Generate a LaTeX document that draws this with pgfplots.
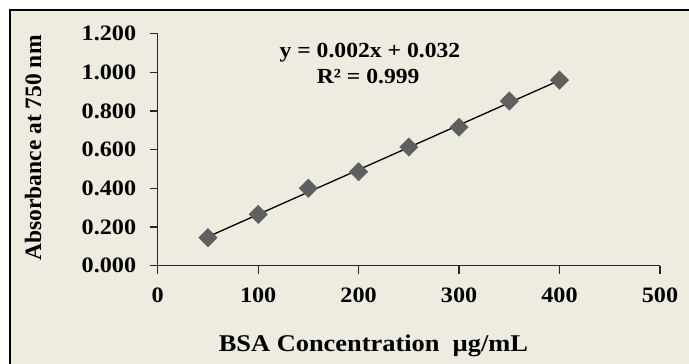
\documentclass[border=0pt]{standalone}
\usepackage{fontspec}
\setmainfont{Liberation Serif}[FakeStretch=1.1]
\newfontfamily\yfont{Liberation Serif}
\usepackage{pgfplots}
\pgfplotsset{compat=1.18}
\definecolor{bg}{RGB}{238,235,224}
\definecolor{mk}{RGB}{95,95,95}
\begin{document}
\begin{tikzpicture}
\path[use as bounding box] (0pt,0pt) rectangle (689pt,364pt);
\clip (0pt,0pt) rectangle (689pt,364pt);
\fill[white] (0pt,0pt) rectangle (689pt,364pt);
\filldraw[fill=bg, draw=black, line width=2.2pt] (10pt,354pt) rectangle (720pt,-30pt);
\begin{axis}[
  at={(157.7pt,98.3pt)}, anchor=south west,
  scale only axis, width=502.3pt, height=232.2pt,
  xmin=0, xmax=500, ymin=0, ymax=1.2,
  axis lines*=left,
  axis line style={black!85, line width=1.3pt},
  tick style={black!85, line width=1.3pt},
  major tick length=8pt,
  tick align=outside,
  xtick={0,100,200,300,400,500},
  ytick={0,0.2,0.4,0.6,0.8,1.0,1.2},
  /pgf/number format/assume math mode=true,
  ticklabel style={font=\bfseries\fontsize{22}{23}\selectfont, text=black},
  y tick label style={xshift=-10pt, /pgf/number format/fixed, /pgf/number format/fixed zerofill, /pgf/number format/precision=3},
  x tick label style={yshift=-11pt, /pgf/number format/fixed},
  xlabel={BSA Concentration~~µg/mL},
  xlabel style={at={(axis description cs:0.4296,0)}, anchor=center, yshift=-80pt, font=\bfseries\fontsize{24}{25}\selectfont},
  ylabel={Absorbance at 750 nm},
  ylabel style={at={(axis description cs:-0.2483,0.507)}, anchor=center, font=\yfont\bfseries\fontsize{23.5}{24}\selectfont},
  clip=false,
]
\addplot[only marks, mark=square*, mark size=6.5pt, mark options={rotate=45, fill=mk, draw=mk}] coordinates {
  (50,0.145) (100,0.265) (150,0.400) (200,0.486) (250,0.613) (300,0.716) (350,0.851) (400,0.959)
};
\addplot[black, line width=1.3pt] coordinates {(50,0.1495) (400,0.958)};
\node[font=\bfseries\fontsize{21.5}{22}\selectfont] at (axis cs:211.3,1.099) {y = 0.002x + 0.032};
\node[font=\bfseries\fontsize{21.5}{22}\selectfont] at (axis cs:209.5,0.977) {R² = 0.999};
\end{axis}
\end{tikzpicture}
\end{document}
